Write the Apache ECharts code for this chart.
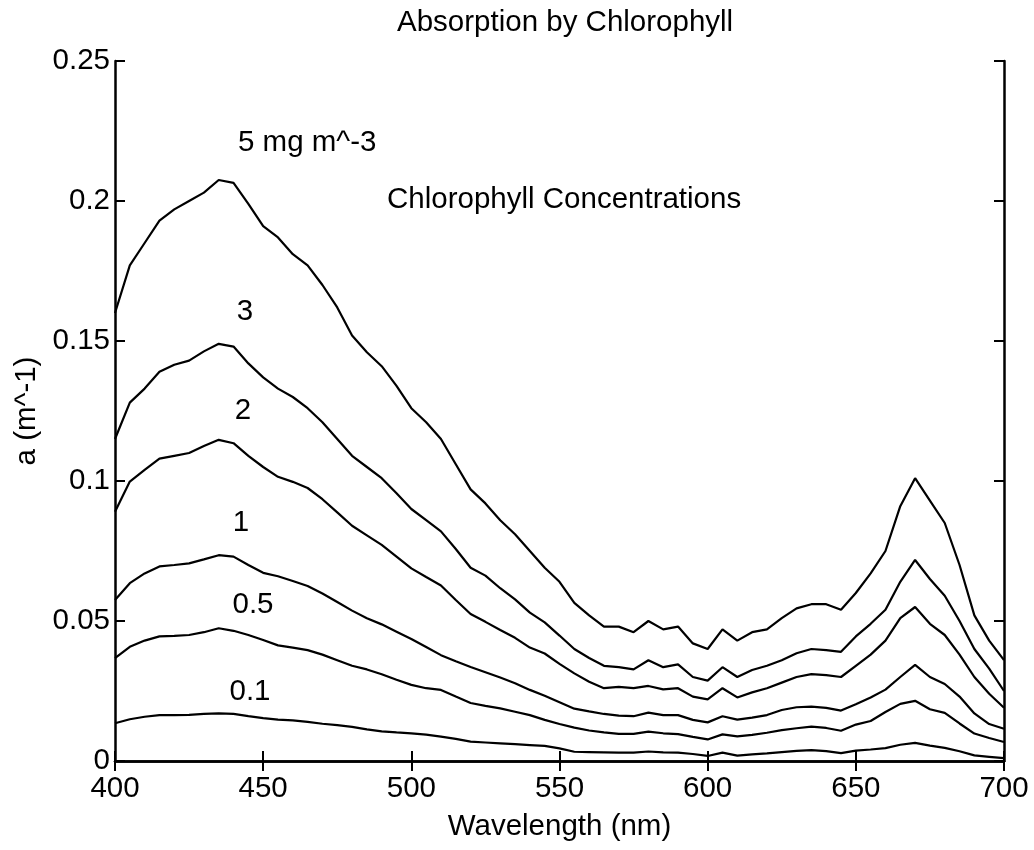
<!DOCTYPE html>
<html>
<head>
<meta charset="UTF-8">
<title>Absorption by Chlorophyll</title>
<style>
	* { margin: 0; padding: 0; }
	body { background: #fff; }
	#chart { width: 1034px; height: 850px; }
</style>
</head>
<body>
<div id="chart"></div>
<script src="https://cdn.jsdelivr.net/npm/echarts@6/dist/echarts.min.js"></script>
<script>
// wavelength samples (nm)
var wavelengths = [400,405,410,415,420,425,430,435,440,445,450,455,460,465,470,475,480,485,490,495,
	500,505,510,515,520,525,530,535,540,545,550,555,560,565,570,575,580,585,590,595,
	600,605,610,615,620,625,630,635,640,645,650,655,660,665,670,675,680,685,690,695,700];

// absorption a (m^-1) for each chlorophyll concentration
var chl5 = [0.160,0.177,0.185,0.193,0.197,0.200,0.203,0.2075,0.2065,0.199,0.191,0.187,0.181,0.177,0.170,0.162,
	0.152,0.146,0.141,0.134,0.126,0.121,0.115,0.106,0.097,0.092,0.086,0.081,0.075,0.069,0.064,0.0565,
	0.052,0.048,0.048,0.046,0.050,0.047,0.048,0.042,0.040,0.047,0.043,0.046,0.047,0.051,0.0545,0.056,
	0.056,0.054,0.060,0.067,0.075,0.091,0.101,0.093,0.085,0.070,0.052,0.043,0.036];
var chl3 = [0.115,0.128,0.133,0.139,0.1415,0.143,0.1463,0.149,0.148,0.142,0.137,0.133,0.130,0.126,0.121,0.115,
	0.109,0.105,0.101,0.0956,0.090,0.086,0.082,0.0757,0.069,0.0662,0.0617,0.0577,0.053,0.0495,0.0448,0.040,
	0.0368,0.034,0.0335,0.0327,0.036,0.0335,0.0345,0.030,0.0287,0.0335,0.030,0.0325,0.034,0.036,0.0385,0.040,
	0.0396,0.039,0.0445,0.049,0.054,0.064,0.0718,0.065,0.059,0.050,0.040,0.033,0.025];
var chl2 = [0.089,0.0998,0.104,0.108,0.109,0.110,0.1125,0.1147,0.1135,0.109,0.105,0.1015,0.0997,0.0975,0.0935,0.0888,
	0.084,0.0806,0.0772,0.073,0.0688,0.0657,0.0627,0.0575,0.0525,0.0497,0.0468,0.044,0.0405,0.0384,0.0347,0.0313,
	0.0283,0.026,0.0265,0.026,0.0268,0.0256,0.026,0.023,0.022,0.026,0.0227,0.0245,0.026,0.028,0.030,0.031,
	0.0307,0.030,0.034,0.038,0.043,0.051,0.055,0.049,0.045,0.038,0.030,0.024,0.019];
var chl1 = [0.0575,0.0635,0.067,0.0695,0.070,0.0706,0.072,0.0735,0.073,0.070,0.0672,0.066,0.0643,0.0625,0.0598,0.0568,
	0.0537,0.051,0.0488,0.0462,0.0436,0.0407,0.0378,0.0356,0.0336,0.0317,0.0298,0.0278,0.0254,0.0233,0.021,0.0187,
	0.0177,0.0168,0.0162,0.016,0.0173,0.0164,0.0164,0.0147,0.0138,0.016,0.0148,0.0155,0.0164,0.0182,0.0192,0.0194,
	0.019,0.018,0.0203,0.0227,0.0255,0.030,0.0343,0.030,0.0275,0.023,0.017,0.0132,0.0115];
var chl05 = [0.0367,0.0408,0.043,0.0445,0.0447,0.045,0.046,0.0474,0.0465,0.045,0.0432,0.0413,0.0405,0.0396,0.038,0.036,
	0.034,0.0327,0.031,0.029,0.0272,0.026,0.0254,0.023,0.0207,0.0197,0.0188,0.0176,0.0164,0.0147,0.0132,0.0119,
	0.0109,0.0102,0.0097,0.0097,0.0105,0.0099,0.0096,0.0086,0.0077,0.0095,0.0088,0.0093,0.0101,0.011,0.0117,0.0123,
	0.0118,0.0108,0.013,0.0143,0.0175,0.0204,0.0215,0.0185,0.0172,0.0134,0.0098,0.0082,0.0068];
var chl01 = [0.0135,0.0149,0.0158,0.0164,0.0164,0.0165,0.0168,0.017,0.0168,0.016,0.0153,0.0148,0.0145,0.014,0.0133,0.0128,
	0.0122,0.0113,0.0106,0.0102,0.0099,0.0094,0.0087,0.0079,0.0069,0.0066,0.0063,0.006,0.0057,0.0054,0.0045,0.0033,
	0.0032,0.0031,0.003,0.003,0.0034,0.0031,0.003,0.0025,0.0018,0.003,0.0019,0.0024,0.0027,0.0032,0.0036,0.0039,
	0.0035,0.0028,0.0037,0.0041,0.0046,0.0058,0.0065,0.0055,0.0047,0.0035,0.002,0.0015,0.001];

var seriesNames = ['5', '3', '2', '1', '0.5', '0.1'];
var seriesValues = [chl5, chl3, chl2, chl1, chl05, chl01];

var FONT = '"Liberation Sans", Arial, Helvetica, sans-serif';
var SIZE = 29.5;

function pairs(values) {
	return wavelengths.map(function(w, i) { return [w, values[i]]; });
}

function label(text, x, y, align) {
	return {
		type: 'text', x: x, y: y, silent: true,
		style: {
			text: text, fill: '#000', font: SIZE + 'px ' + FONT,
			textAlign: align || 'left', textVerticalAlign: 'middle',
			align: align || 'left', verticalAlign: 'middle'
		}
	};
}

var myChart = echarts.init(document.getElementById('chart'));

var axisLine = { show: true, lineStyle: { color: '#000', width: 2.5 } };
var axisTick = { show: true, inside: true, length: 10, lineStyle: { color: '#000', width: 2 } };

var option = {
	animation: false,
	backgroundColor: '#fff',
	grid: { left: 115, right: 30, top: 61, bottom: 89 },
	graphic: [
		label('Absorption by Chlorophyll', 397, 23),
		label('5 mg m^-3', 238, 143),
		label('Chlorophyll Concentrations', 387, 200),
		label('3', 245, 312, 'center'),
		label('2', 243, 411, 'center'),
		label('1', 241, 523, 'center'),
		label('0.5', 253, 605, 'center'),
		label('0.1', 250, 692, 'center')
	],
	xAxis: [{
		type: 'value', position: 'bottom', min: 400, max: 700, interval: 50,
		axisLine: axisLine, axisTick: axisTick, splitLine: { show: false },
		axisLabel: { color: '#000', fontSize: SIZE, fontFamily: FONT, margin: 13, showMinLabel: true, showMaxLabel: true },
		name: 'Wavelength (nm)', nameLocation: 'middle', nameGap: 51,
		nameTextStyle: { color: '#000', fontSize: SIZE, fontFamily: FONT }
	}, {
		type: 'value', position: 'top', min: 400, max: 700, interval: 50,
		axisLine: axisLine, axisTick: axisTick, axisLabel: { show: false }, splitLine: { show: false }
	}],
	yAxis: [{
		type: 'value', position: 'left', min: 0, max: 0.25, interval: 0.05,
		axisLine: axisLine, axisTick: axisTick, splitLine: { show: false },
		axisLabel: { color: '#000', fontSize: SIZE, fontFamily: FONT, margin: 5, showMinLabel: true, showMaxLabel: true },
		name: 'a (m^-1)', nameLocation: 'middle', nameGap: 70,
		nameTextStyle: { color: '#000', fontSize: SIZE, fontFamily: FONT }
	}, {
		type: 'value', position: 'right', min: 0, max: 0.25, interval: 0.05,
		axisLine: axisLine, axisTick: axisTick, axisLabel: { show: false }, splitLine: { show: false }
	}],
	series: seriesValues.map(function(vals, i) {
		return {
			name: seriesNames[i], type: 'line', data: pairs(vals),
			showSymbol: false, symbol: 'none', smooth: false,
			lineStyle: { color: '#000', width: 2.2 },
			emphasis: { disabled: true }
		};
	})
};

myChart.setOption(option);
</script>
</body>
</html>
